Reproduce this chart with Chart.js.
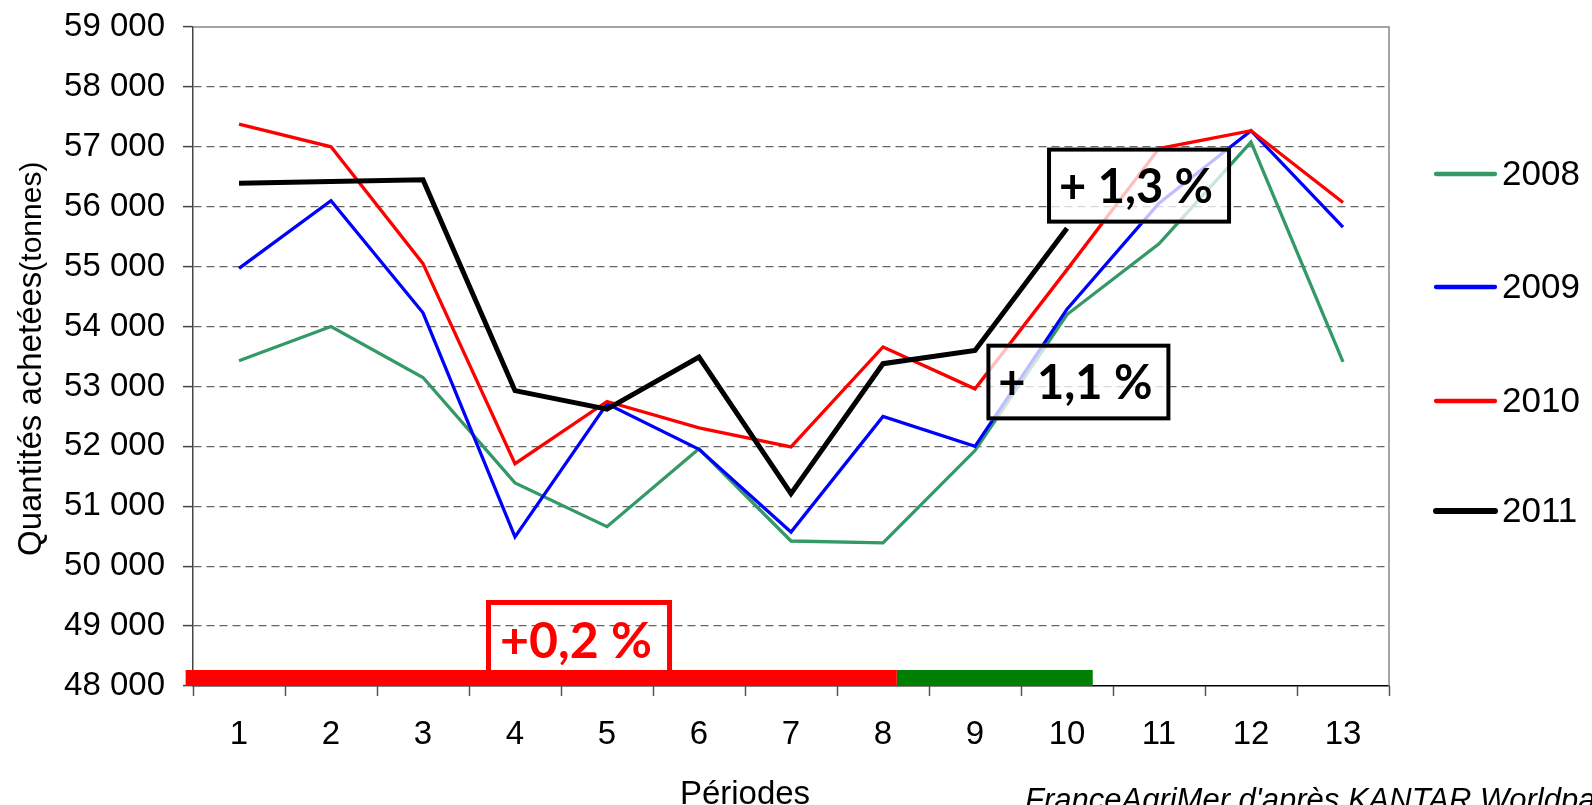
<!DOCTYPE html>
<html lang="fr">
<head>
  <meta charset="UTF-8">
  <title>Quantités achetées par période</title>
  <script src="https://cdn.jsdelivr.net/npm/chart.js@4/dist/chart.umd.min.js"></script>
  <style>
    body { margin: 0; background: #fff; }
    #wrap { width: 1592px; height: 805px; }
  </style>
</head>
<body>
  <div id="wrap"><canvas id="graphique" width="1592" height="805"></canvas></div>

  <script>
    // données
    const periodes = ['1', '2', '3', '4', '5', '6', '7', '8', '9', '10', '11', '12', '13'];
    const annees = ['2008', '2009', '2010', '2011'];
    const v2008 = [53430, 54000, 53150, 51390, 50660, 51960, 50420, 50390, 51930, 54200, 55380, 57080, 53410];
    const v2009 = [54970, 56100, 54230, 50490, 52710, 51950, 50570, 52500, 52000, 54290, 56060, 57270, 55660];
    const v2010 = [57380, 57000, 55050, 51710, 52750, 52310, 51990, 53660, 52960, 54950, 56970, 57270, 56070];
    const v2011 = [56390, 56420, 56450, 52930, 52620, 53490, 51210, 53380, 53600, 55640, null, null, null];
    const couleurs = ['#339966', '#0000ff', '#ff0000', '#000000'];
    const epaisseurs = [3.3, 3.3, 3.3, 5];

    // bandes en bas (périodes couvertes)
    const bandeRouge = [0.42, 8.15];
    const bandeVerte = [8.15, 10.28];
    const niveauBande = 48133;

    const yMin = 48000, yMax = 59000, yPas = 1000;

    const evolutions = [
      { texte: '+0,2 %', couleur: '#ff0000', x: [3.685, 5.707], y: [49436, 48110], trait: 5, fond: 'rgba(255,255,255,0)' },
      { texte: '+ 1,3 %', couleur: '#000000', x: [9.783, 11.783], y: [56987, 55718], trait: 4, fond: 'rgba(255,255,255,0.75)' },
      { texte: '+ 1,1 %', couleur: '#000000', x: [9.124, 11.124], y: [53714, 52434], trait: 4, fond: 'rgba(255,255,255,0.75)' }
    ];

    const series = [v2008, v2009, v2010, v2011];

    const cadrePlugin = {
      id: 'cadre',
      afterDatasetsDraw(chart) {
        const { ctx, chartArea: a, scales } = chart;
        ctx.save();
        // bord haut et droit
        ctx.strokeStyle = '#888';
        ctx.lineWidth = 1.5;
        ctx.beginPath();
        ctx.moveTo(a.left, a.top);
        ctx.lineTo(a.right, a.top);
        ctx.lineTo(a.right, a.bottom);
        ctx.stroke();

        // encadrés
        evolutions.forEach(e => {
          const x1 = scales.x2.getPixelForValue(e.x[0]);
          const x2 = scales.x2.getPixelForValue(e.x[1]);
          const y1 = scales.y.getPixelForValue(e.y[0]);
          const y2 = scales.y.getPixelForValue(e.y[1]);
          const h = e.trait / 2;
          ctx.fillStyle = e.fond;
          ctx.fillRect(x1, y1, x2 - x1, y2 - y1);
          ctx.strokeStyle = e.couleur;
          ctx.lineWidth = e.trait;
          ctx.lineJoin = 'miter';
          ctx.strokeRect(x1 + h, y1 + h, x2 - x1 - e.trait, y2 - y1 - e.trait);
          ctx.fillStyle = e.couleur;
          ctx.font = 'bold ' + (e.trait === 5 ? 50 : 47) + 'px Lato';
          ctx.textAlign = 'center';
          ctx.textBaseline = 'middle';
          ctx.fillText(e.texte, (x1 + x2) / 2 - 3, (y1 + y2) / 2 + 2);
        });
        ctx.restore();
      },
      afterDraw(chart) {
        const { ctx } = chart;
        ctx.save();
        ctx.fillStyle = '#000';

        // titre de l'axe vertical
        ctx.translate(41, 556);
        ctx.rotate(-Math.PI / 2);
        ctx.textAlign = 'left';
        ctx.textBaseline = 'alphabetic';
        ctx.font = '33px "Liberation Sans"';
        const t1 = 'Quantités achetées';
        ctx.fillText(t1, 0, 0);
        const w1 = ctx.measureText(t1).width;
        ctx.font = '30px "Liberation Sans"';
        ctx.fillText('(tonnes)', w1, 0);
        ctx.setTransform(1, 0, 0, 1, 0, 0);

        // titre de l'axe horizontal
        ctx.font = '33px "Liberation Sans"';
        ctx.textAlign = 'center';
        ctx.fillText('Périodes', 745, 804);

        // source
        ctx.font = 'italic 31px "Liberation Sans"';
        ctx.textAlign = 'left';
        ctx.fillText("FranceAgriMer d'après KANTAR Worldpanel", 1025, 810);

        // légende
        const yLeg = [174, 287, 401, 511];
        annees.forEach((an, i) => {
          ctx.strokeStyle = couleurs[i];
          ctx.lineWidth = epaisseurs[i] + 1;
          ctx.lineCap = 'round';
          ctx.beginPath();
          ctx.moveTo(1436, yLeg[i]);
          ctx.lineTo(1495, yLeg[i]);
          ctx.stroke();
          ctx.font = '35px "Liberation Sans"';
          ctx.textBaseline = 'middle';
          ctx.fillText(an, 1502, yLeg[i] + 1);
        });
        ctx.restore();
      }
    };

    const jeux = annees.map((an, i) => ({
      label: an,
      data: series[i],
      borderColor: couleurs[i],
      backgroundColor: couleurs[i],
      borderWidth: epaisseurs[i],
      pointRadius: 0,
      tension: 0,
      spanGaps: false,
      order: 3 - i,
      xAxisID: 'x'
    }));

    jeux.push({
      label: 'bande rouge',
      data: bandeRouge.map(p => ({ x: p, y: niveauBande })),
      borderColor: '#ff0000',
      borderWidth: 16,
      borderCapStyle: 'butt',
      pointRadius: 0,
      xAxisID: 'x2',
      clip: false,
      order: 10
    });
    jeux.push({
      label: 'bande verte',
      data: bandeVerte.map(p => ({ x: p, y: niveauBande })),
      borderColor: '#008000',
      borderWidth: 16,
      borderCapStyle: 'butt',
      pointRadius: 0,
      xAxisID: 'x2',
      clip: false,
      order: 10
    });

    new Chart(document.getElementById('graphique'), {
      type: 'line',
      data: { labels: periodes, datasets: jeux },
      options: {
        responsive: false,
        animation: false,
        layout: { padding: { left: 0, top: 27, right: 203, bottom: 0 } },
        plugins: {
          legend: { display: false },
          tooltip: { enabled: false }
        },
        scales: {
          x: {
            type: 'category',
            offset: true,
            grid: { offset: true, drawOnChartArea: false, tickLength: 10, tickColor: '#555', tickWidth: 1.5 },
            border: { color: '#000', width: 1.5 },
            ticks: { color: '#000', padding: 19, maxRotation: 0, font: { family: 'Liberation Sans', size: 33 } },
            afterFit: s => { s.height = 119; s.paddingLeft = 0; s.paddingRight = 0; }
          },
          x2: {
            type: 'linear',
            display: false,
            min: 0.5,
            max: 13.5
          },
          y: {
            min: yMin,
            max: yMax,
            grid: {
              color: ctx => (ctx.tick && (ctx.tick.value === yMin || ctx.tick.value === yMax)) ? 'rgba(0,0,0,0)' : '#666',
              lineWidth: 1.2,
              tickLength: 10,
              tickColor: '#444',
              tickWidth: 1.5
            },
            border: { color: '#444', width: 1.5, dash: [8, 5] },
            ticks: {
              stepSize: yPas,
              color: '#000',
              padding: 18,
              font: { family: 'Liberation Sans', size: 33 },
              callback: v => Math.floor(v / 1000) + ' 000'
            },
            afterFit: s => { s.width = 193; s.paddingTop = 0; s.paddingBottom = 0; }
          }
        }
      },
      plugins: [cadrePlugin]
    });
  </script>
</body>
</html>
